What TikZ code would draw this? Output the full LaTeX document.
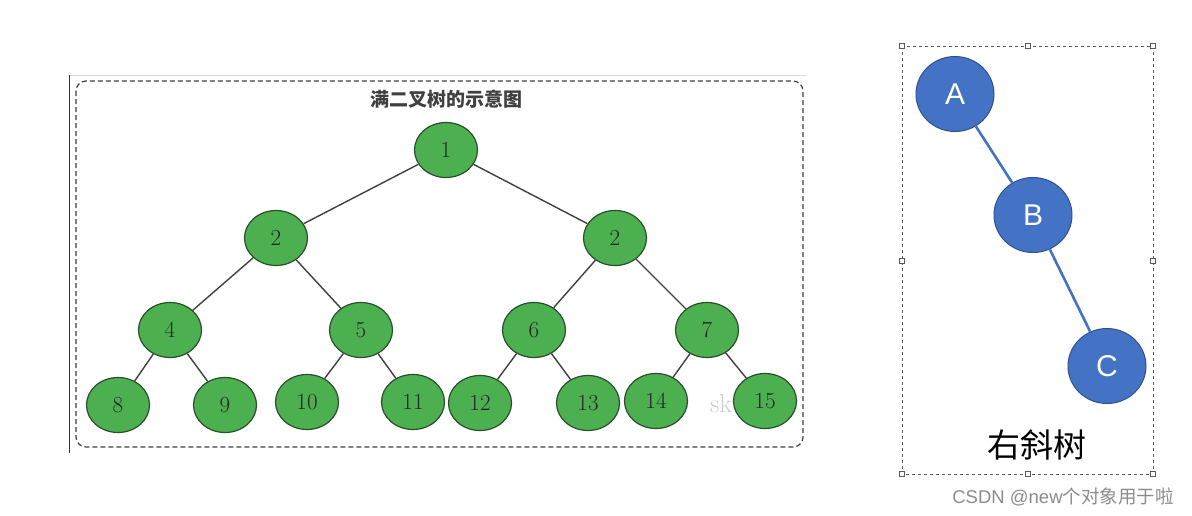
\documentclass[tikz,border=0pt]{standalone}
\usepackage{fontspec}
\newfontfamily\cjk{Noto Sans CJK SC}
\newfontfamily\sans{Liberation Sans}
\usetikzlibrary{shapes.geometric}
\definecolor{gfill}{HTML}{4CAF50}
\definecolor{gline}{HTML}{2A4F2B}
\definecolor{bfill}{HTML}{4472C4}
\definecolor{bline}{HTML}{2F528F}
\begin{document}
\begin{tikzpicture}[x=1pt,y=-1pt,
  gnode/.style={ellipse,fill=gfill,draw=gline,line width=1.2pt,minimum width=63pt,minimum height=55pt,inner sep=0pt,font=\fontsize{23}{23}\selectfont,text=black!85},
  gedge/.style={draw=black!75,line width=1.4pt},
  bnode/.style={ellipse,fill=bfill,draw=bline,line width=1pt,minimum width=78pt,minimum height=75pt,inner sep=0pt,font=\sans\fontsize{30}{30}\selectfont,text=white},
  bedge/.style={draw=bfill,line width=2.6pt},
  handle/.style={draw=black!65,fill=white,line width=0.6pt,minimum size=4.5pt,inner sep=0pt}]
\useasboundingbox (0,0) rectangle (1192,515);
\fill[white] (0,0) rectangle (1192,515);
% left panel frame
\draw[black!15,line width=0.8pt] (69,75) -- (806,75);
\draw[black!80,line width=1pt] (69,75) -- (69,453);
\draw[black!75,dash pattern=on 5pt off 3pt,line width=1.2pt,rounded corners=10pt] (76,81) rectangle (803,447);
\node (title) at (446,99) {\cjk\bfseries\fontsize{19}{19}\selectfont\color{black!75}满二叉树的示意图};
\node[text=black!20,font=\fontsize{26}{26}\selectfont] (wm) at (721,404) {sk};
% nodes
\node[gnode] (n1) at (446,150) {1};
\node[gnode] (n2) at (276,238) {2};
\node[gnode] (n3) at (615,238) {2};
\node[gnode] (n4) at (170,330) {4};
\node[gnode] (n5) at (361,330) {5};
\node[gnode] (n6) at (534,330) {6};
\node[gnode] (n7) at (707,330) {7};
\node[gnode] (n8) at (118,405) {8};
\node[gnode] (n9) at (225,405) {9};
\node[gnode] (n10) at (307,402) {10};
\node[gnode] (n11) at (413,402) {11};
\node[gnode] (n12) at (480,403) {12};
\node[gnode] (n13) at (588,403) {13};
\node[gnode] (n14) at (656,401) {14};
\node[gnode] (n15) at (765,401) {15};
\foreach \a/\b in {n1/n2,n1/n3,n2/n4,n2/n5,n3/n6,n3/n7,n4/n8,n4/n9,n5/n10,n5/n11,n6/n12,n6/n13,n7/n14,n7/n15}
  \draw[gedge] (\a) -- (\b);
% right panel
\draw[black!65,dashed,line width=0.7pt] (902,46) rectangle (1153,474);
\foreach \hx/\hy [count=\i] in {902/46,1028/46,1153/46,902/261,1153/261,902/474,1028/474,1153/474}
  \node[handle] (h\i) at (\hx,\hy) {};
\node[bnode] (A) at (955,94) {A};
\node[bnode] (B) at (1033,215) {B};
\node[bnode] (C) at (1107,366) {C};
\draw[bedge] (A) -- (B);
\draw[bedge] (B) -- (C);
\node (lbl) at (1037,445) {\cjk\fontsize{33}{33}\selectfont 右斜树};
\node[text=black!45] (csdn) at (1063,497) {\sans\fontsize{18.5}{18.5}\selectfont CSDN @new\cjk 个对象用于啦};
\end{tikzpicture}
\end{document}
